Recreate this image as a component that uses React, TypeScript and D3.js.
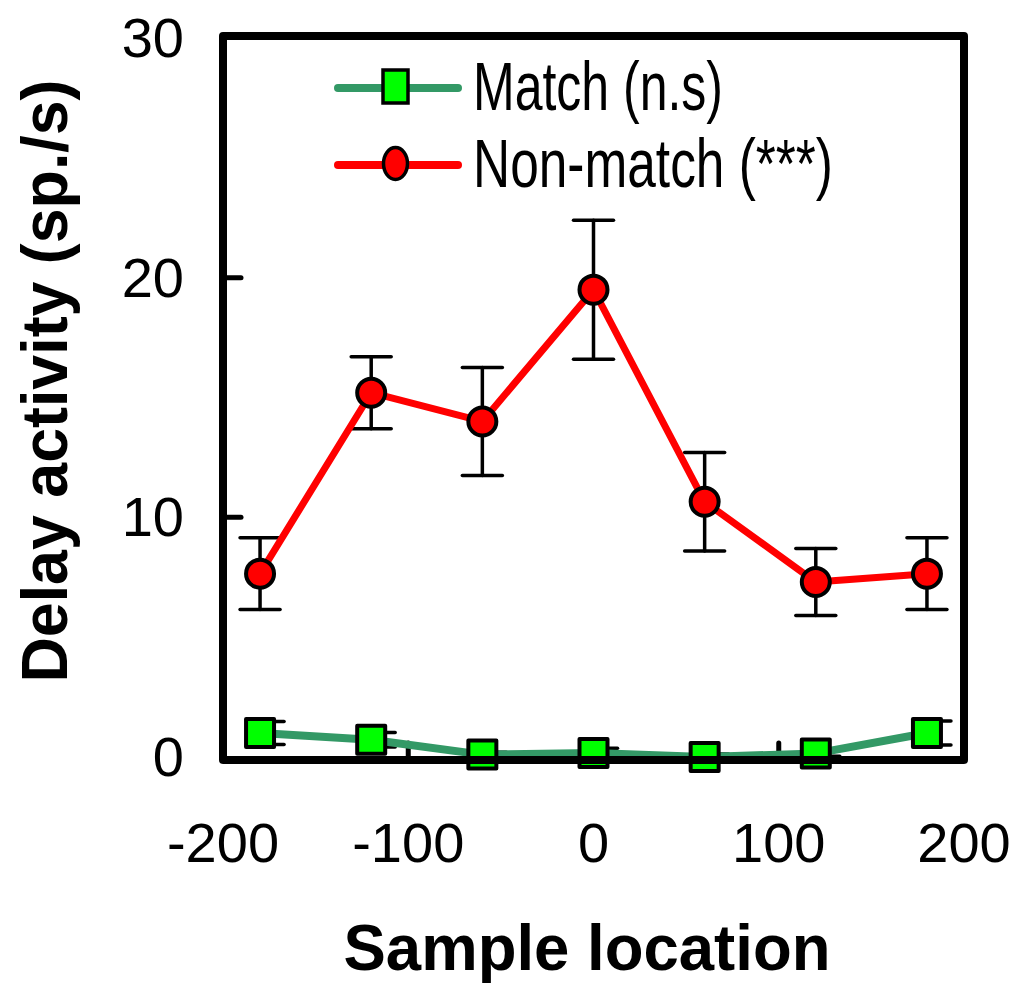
import React from "react";
import * as d3 from "d3";

const positions = [-180, -120, -60, 0, 60, 120, 180];
const nonMatchMean = [7.65, 15.2, 14.0, 19.5, 10.65, 7.3, 7.65];
const nonMatchErr = [1.5, 1.5, 2.25, 2.9, 2.05, 1.4, 1.5];
const matchMean = [1.0, 0.72, 0.1, 0.17, 0.0, 0.15, 1.0];
const matchErr = [0.48, 0.3, 0.1, 0.2, 0.12, 0.12, 0.5];
const xTicks = [-200, -100, 0, 100, 200];
const yTicks = [0, 10, 20, 30];
const legendLabels = ["Match (n.s)", "Non-match (***)"];

const FONT = "'Liberation Sans', Arial, Helvetica, sans-serif";

export default function App() {
  const W = 1015;
  const H = 983;
  const x = d3.scaleLinear().domain([-200, 200]).range([223, 964]);
  const y = d3.scaleLinear().domain([0, 30]).range([757, 38]);

  const line = d3
    .line<number>()
    .x((_, i) => x(positions[i]))
    .y((d) => y(d));

  const frameLeft = x(-200);
  const frameRight = x(200);
  const frameTop = y(30) - 2;
  const frameBottom = y(0) + 3;

  const errBars = (
    means: number[],
    errs: number[],
    left: number,
    right: number,
    key: string
  ) =>
    means.map((m, i) => {
      const cx = x(positions[i]);
      const top = y(m + errs[i]);
      const bot = y(m - errs[i]);
      return (
        <g key={key + i} stroke="#000" strokeWidth={3.5} strokeLinecap="round">
          <line x1={cx} x2={cx} y1={top} y2={bot} />
          <line x1={cx - left} x2={cx + right} y1={top} y2={top} />
          <line x1={cx - left} x2={cx + right} y1={bot} y2={bot} />
        </g>
      );
    });

  return (
    <svg
      width={W}
      height={H}
      style={{ position: "absolute", left: 0, top: 0, background: "#fff" }}
      fontFamily={FONT}
    >
      <rect x={0} y={0} width={W} height={H} fill="#fff" />

      {/* inner ticks */}
      <g stroke="#000" strokeWidth={5} strokeLinecap="round">
        {yTicks
          .filter((t) => t > 0 && t < 30)
          .map((t) => (
            <line key={"yt" + t} x1={frameLeft} x2={frameLeft + 18} y1={y(t)} y2={y(t)} />
          ))}
        {xTicks
          .filter((t) => t > -200 && t < 200)
          .map((t) => (
            <line key={"xt" + t} x1={x(t)} x2={x(t)} y1={frameBottom} y2={frameBottom - 17} />
          ))}
      </g>

      {/* match series */}
      {errBars(matchMean, matchErr, 0, 24, "me")}
      <path
        d={line(matchMean) || ""}
        fill="none"
        stroke="#339966"
        strokeWidth={8}
        strokeLinejoin="round"
      />
      {matchMean.map((m, i) => (
        <rect
          key={"ms" + i}
          x={x(positions[i]) - 14}
          y={y(m) - 14}
          width={28}
          height={28}
          fill="#00ff00"
          stroke="#000"
          strokeWidth={4}
          strokeLinejoin="round"
        />
      ))}

      {/* non-match series */}
      {errBars(nonMatchMean, nonMatchErr, 20, 20, "ne")}
      <path
        d={line(nonMatchMean) || ""}
        fill="none"
        stroke="#ff0000"
        strokeWidth={7}
        strokeLinejoin="round"
      />
      {nonMatchMean.map((m, i) => (
        <circle
          key={"nc" + i}
          cx={x(positions[i])}
          cy={y(m)}
          r={14}
          fill="#ff0000"
          stroke="#000"
          strokeWidth={4}
        />
      ))}

      {/* frame */}
      <rect
        x={frameLeft}
        y={frameTop}
        width={frameRight - frameLeft}
        height={frameBottom - frameTop}
        fill="none"
        stroke="#000"
        strokeWidth={8}
        strokeLinejoin="round"
      />

      {/* y tick labels */}
      {yTicks.map((t) => (
        <text key={"yl" + t} x={184} y={y(t) + 19} fontSize={56} textAnchor="end" fill="#000">
          {t}
        </text>
      ))}

      {/* x tick labels */}
      {xTicks.map((t) => (
        <text key={"xl" + t} x={x(t)} y={862} fontSize={56} textAnchor="middle" fill="#000">
          {t}
        </text>
      ))}

      {/* axis titles */}
      <text
        x={587}
        y={970}
        fontSize={64}
        fontWeight="bold"
        textAnchor="middle"
        textLength={487}
        lengthAdjust="spacingAndGlyphs"
        fill="#000"
      >
        Sample location
      </text>
      <text
        transform="translate(67,381) rotate(-90)"
        fontSize={65}
        fontWeight="bold"
        textAnchor="middle"
        textLength={603}
        lengthAdjust="spacingAndGlyphs"
        fill="#000"
      >
        Delay activity (sp./s)
      </text>

      {/* legend */}
      <g>
        <line x1={338} x2={458} y1={88} y2={88} stroke="#339966" strokeWidth={8} strokeLinecap="round" />
        <rect x={383} y={70} width={25} height={33} fill="#00ff00" stroke="#000" strokeWidth={3.5} />
        <text x={473} y={110} fontSize={68} textLength={250} lengthAdjust="spacingAndGlyphs" fill="#000">
          {legendLabels[0]}
        </text>
        <line x1={338} x2={458} y1={165} y2={165} stroke="#ff0000" strokeWidth={8} strokeLinecap="round" />
        <ellipse cx={395.5} cy={163.5} rx={12} ry={16} fill="#ff0000" stroke="#000" strokeWidth={3.5} />
        <text x={473} y={187} fontSize={68} textLength={360} lengthAdjust="spacingAndGlyphs" fill="#000">
          {legendLabels[1]}
        </text>
      </g>
    </svg>
  );
}
